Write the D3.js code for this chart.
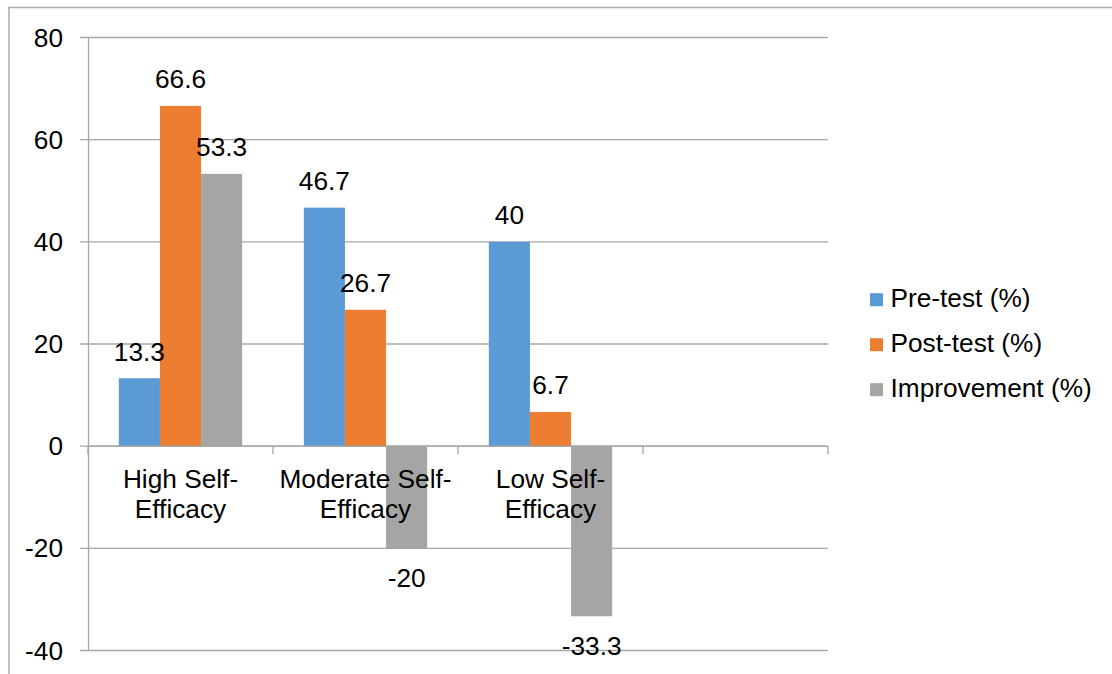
<!DOCTYPE html>
<html>
<head>
<meta charset="utf-8">
<script src="https://cdn.jsdelivr.net/npm/d3@7"></script>
<style>
  html, body { margin: 0; padding: 0; background: #fff; }
  svg { display: block; font-family: "Liberation Sans", Arial, sans-serif; }
</style>
</head>
<body>
<svg id="chart" width="1112" height="674"></svg>
<script>
const categories = [["High Self-", "Efficacy"], ["Moderate Self-", "Efficacy"], ["Low Self-", "Efficacy"], ["", ""]];
const categoryKeys = ["High", "Moderate", "Low", "Empty"];
const seriesNames = ["Pre-test (%)", "Post-test (%)", "Improvement (%)"];
const preTest = [13.3, 46.7, 40];
const postTest = [66.6, 26.7, 6.7];
const improvement = [53.3, -20, -33.3];
const yTicks = [80, 60, 40, 20, 0, -20, -40];
const colors = ["#5B9BD5", "#ED7D31", "#A5A5A5"];

(function () {
const series = [preTest, postTest, improvement];

const svg = d3.select("#chart");
const pLeft = 88, pRight = 828, pTop = 37.5, pBottom = 650.5;
const gridColor = "#A6A6A6";
const fontSize = 25;
const sx = 1.05; // horizontal text stretch

// outer border (cropped chart area)
svg.append("rect").attr("x", 9).attr("y", 7.5).attr("width", 1200).attr("height", 800)
  .attr("fill", "none").attr("stroke", "#ABABAB").attr("stroke-width", 1.5);

const x = d3.scaleBand().domain(categoryKeys).range([pLeft, pRight]).paddingInner(0).paddingOuter(0);
const bw = x.bandwidth() / 4.5;
const xs = d3.scaleBand().domain(d3.range(3)).range([0, bw * 3]);
const y = d3.scaleLinear().domain([-40, 80]).range([pBottom, pTop]);

function stretchedText(g, tx, ty, txt, anchor) {
  return g.append("text")
    .attr("transform", `translate(${tx},${ty}) scale(${sx},1)`)
    .attr("text-anchor", anchor)
    .attr("font-size", fontSize)
    .attr("fill", "#000")
    .text(txt);
}

// horizontal gridlines
const yAxis = d3.axisLeft(y).tickValues(yTicks).tickSize(0).tickFormat("");
svg.append("g").selectAll("line.grid").data(yTicks).enter().append("line")
  .attr("x1", pLeft - 8).attr("x2", pRight)
  .attr("y1", d => y(d)).attr("y2", d => y(d))
  .attr("stroke", gridColor).attr("stroke-width", 1.3);

// y axis line
svg.append("g").attr("transform", `translate(${pLeft},0)`).call(yAxis)
  .call(g => g.select(".domain").attr("stroke", gridColor).attr("stroke-width", 1.3));

// y tick labels
const yl = svg.append("g");
yTicks.forEach(t => {
  stretchedText(yl, 63, y(t) + 9, String(t), "end");
});

// bars
const bars = svg.append("g");
series.forEach((s, si) => {
  bars.selectAll(null).data(s).enter().append("rect")
    .attr("x", (d, i) => x(categoryKeys[i]) + bw * 0.75 + xs(si))
    .attr("width", xs.bandwidth())
    .attr("y", d => y(Math.max(0, d)))
    .attr("height", d => Math.abs(y(d) - y(0)))
    .attr("fill", colors[si]);
});

// x axis line and ticks at zero
const xAxisG = svg.append("g");
xAxisG.append("line").attr("x1", pLeft).attr("x2", pRight).attr("y1", y(0)).attr("y2", y(0))
  .attr("stroke", gridColor).attr("stroke-width", 1.3);
const tickXs = categoryKeys.map(k => x(k)).concat([pRight]);
xAxisG.selectAll("line.tk").data(tickXs).enter().append("line")
  .attr("x1", d => d).attr("x2", d => d).attr("y1", y(0)).attr("y2", y(0) + 8)
  .attr("stroke", gridColor).attr("stroke-width", 1.3);

// category labels
const cl = svg.append("g");
categories.forEach((c, i) => {
  const cx = x(categoryKeys[i]) + x.bandwidth() / 2;
  stretchedText(cl, cx, 487.5, c[0], "middle");
  stretchedText(cl, cx, 518, c[1], "middle");
});

// data labels
const dl = svg.append("g");
series.forEach((s, si) => {
  s.forEach((d, i) => {
    const cx = x(categoryKeys[i]) + bw * 0.75 + xs(si) + xs.bandwidth() / 2;
    const ty = d >= 0 ? y(d) - 17.5 : y(d) + 39;
    stretchedText(dl, cx, ty, String(d), "middle");
  });
});

// legend
const lg = svg.append("g");
seriesNames.forEach((n, i) => {
  const base = 306.7 + i * 45;
  lg.append("rect").attr("x", 870).attr("y", base - 13.5).attr("width", 13).attr("height", 13)
    .attr("fill", colors[i]);
  stretchedText(lg, 890.5, base, n, "start");
});
})();
</script>
</body>
</html>
